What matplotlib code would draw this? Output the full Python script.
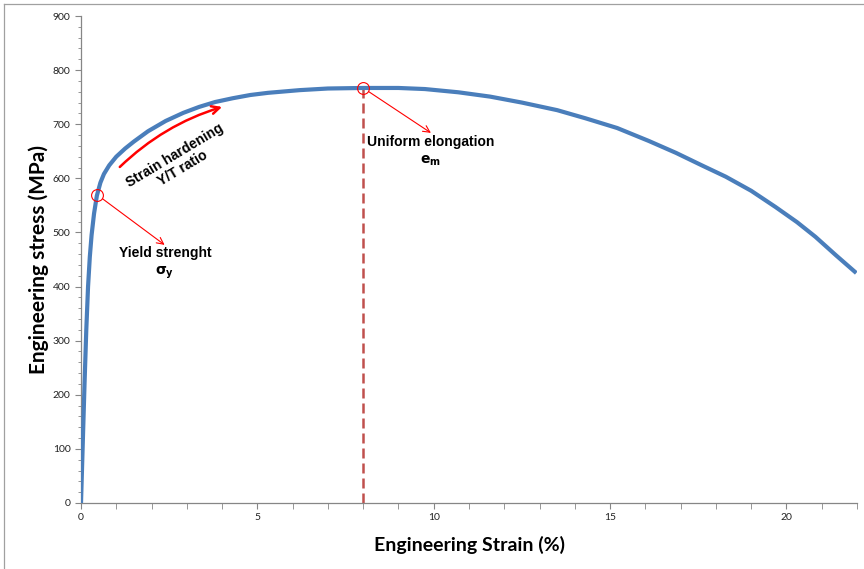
import matplotlib.pyplot as plt
from matplotlib.lines import Line2D
from matplotlib.ticker import MultipleLocator

# engineering strain (%) and stress (MPa)
strain = [0.0, 0.05, 0.1, 0.15, 0.2, 0.25, 0.3, 0.37, 0.45, 0.55, 0.65, 0.8,
          1.0, 1.25, 1.5, 1.9, 2.4, 2.9, 3.35, 3.8, 4.3, 4.8, 5.3, 6.2, 7.0,
          8.0, 9.0, 9.75, 10.7, 11.6, 12.5, 13.5, 14.3, 15.2, 16.1, 16.87,
          17.6, 18.28, 19.0, 19.69, 20.3, 20.82, 21.4, 21.98]
stress = [0, 110, 220, 320, 400, 455, 495, 535, 568, 592, 608, 624,
          640, 655, 668, 687, 706, 721, 732, 741, 748, 754, 758, 763, 766,
          767, 767, 765, 759, 751, 740, 726, 711, 693, 669, 647,
          624, 603, 577, 547, 519, 492, 458, 425]

yield_pt = (0.45, 570)
uts_pt = (8.0, 767)

blue = '#4a7ebb'
red = '#ff0000'
dash_red = '#c0504d'

plt.rcParams['font.family'] = ['Lato', 'DejaVu Sans']

fig = plt.figure(figsize=(8.64, 5.69), dpi=100)
ax = fig.add_axes([81 / 864, 1 - 503 / 569, (857 - 81) / 864, (503 - 16) / 569])

ax.plot(strain, stress, color=blue, lw=3.0, solid_capstyle='butt',
        solid_joinstyle='round', zorder=3)

# uniform elongation marker line
ax.plot([uts_pt[0], uts_pt[0]], [0, uts_pt[1]], color=dash_red, lw=1.8,
        dashes=(4, 2), zorder=2)

# circles
ax.plot(*yield_pt, marker='o', ms=8.5, mfc='none', mec=red, mew=0.8, zorder=4)
ax.plot(*uts_pt, marker='o', ms=8.5, mfc='none', mec=red, mew=0.8, zorder=4)

# thin pointer arrows
ax.annotate('', xy=(2.37, 477), xytext=yield_pt,
            arrowprops=dict(arrowstyle='->', color=red, lw=0.8,
                            mutation_scale=12, shrinkA=5, shrinkB=0))
ax.annotate('', xy=(9.92, 684), xytext=uts_pt,
            arrowprops=dict(arrowstyle='->', color=red, lw=0.8,
                            mutation_scale=12, shrinkA=5, shrinkB=0))

# strain hardening arrow
ax.annotate('', xy=(4.0, 732), xytext=(1.1, 621),
            arrowprops=dict(arrowstyle='->', color=red, lw=1.8,
                            mutation_scale=14, shrinkA=0, shrinkB=0,
                            connectionstyle='arc3,rad=-0.12'))

tf = dict(family=['Liberation Sans', 'DejaVu Sans'], fontweight='bold',
          fontsize=10, ha='center', va='center', color='black')
ax.text(2.39, 462, 'Yield strenght', **tf)
ax.text(2.37, 426, r'$\mathbf{\sigma_y}$', **tf)
ax.text(9.92, 667, 'Uniform elongation', **tf)
ax.text(9.92, 632, r'$\mathbf{e_m}$', **tf)
ax.text(2.78, 630, 'Strain hardening\nY/T ratio', rotation=31,
        linespacing=1.1, rotation_mode='anchor', **tf)

ax.set_xlim(0, 22)
ax.set_ylim(0, 900)
ax.xaxis.set_major_locator(MultipleLocator(5))
ax.xaxis.set_minor_locator(MultipleLocator(1))
ax.yaxis.set_major_locator(MultipleLocator(100))
ax.yaxis.set_minor_locator(MultipleLocator(20))

ax.spines['top'].set_visible(False)
ax.spines['right'].set_visible(False)
for s in ['left', 'bottom']:
    ax.spines[s].set_color('#868686')
    ax.spines[s].set_linewidth(0.9)

ax.tick_params(which='both', direction='out', color='#868686', labelsize=7.5,
               labelcolor='#222222')
ax.tick_params(axis='x', which='both', length=4)
ax.tick_params(axis='y', which='major', length=4)
ax.tick_params(axis='y', which='minor', length=2.5)

ax.set_xlabel('Engineering Strain (%)', fontsize=14, fontweight='bold', labelpad=10)
ax.set_ylabel('Engineering stress (MPa)', fontsize=15, fontweight='bold', labelpad=3)

# chart area border (top and left visible)
fig.add_artist(Line2D([4 / 864, 4 / 864], [0, 1 - 4 / 569], color='#a0a0a0', lw=0.9))
fig.add_artist(Line2D([4 / 864, 1], [1 - 4 / 569, 1 - 4 / 569], color='#a0a0a0', lw=0.9))

fig.savefig('out.png', dpi=100)
